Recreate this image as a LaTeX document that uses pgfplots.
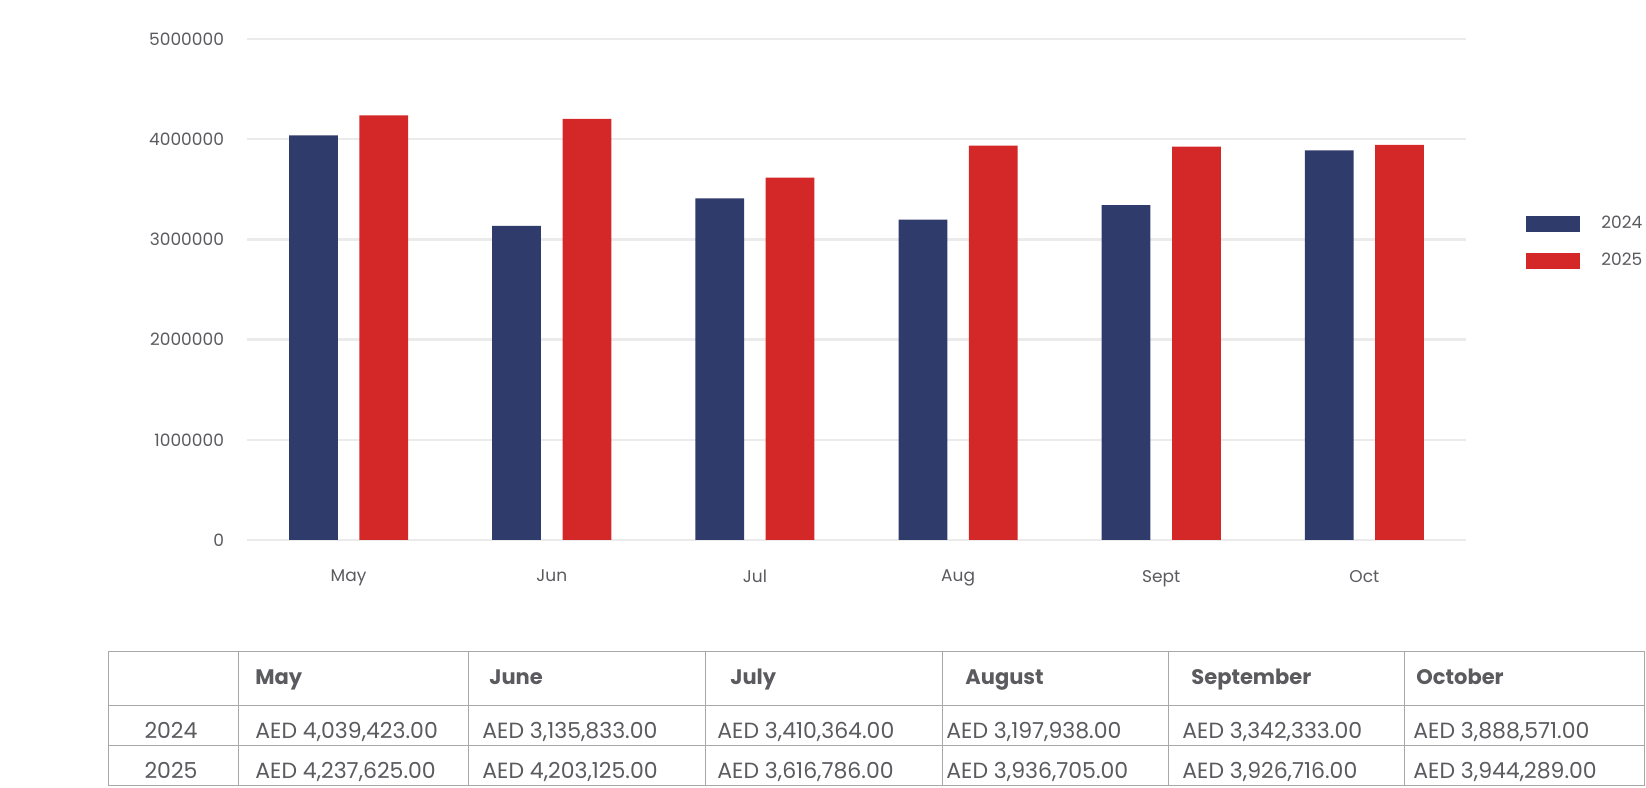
\documentclass[border=0pt]{standalone}
\usepackage{pgfplots}
\pgfplotsset{compat=1.18}
\usepackage{fontspec}
\setmainfont{Poppins}
\definecolor{navy}{HTML}{2F3B6B}
\definecolor{redb}{HTML}{D42728}
\definecolor{txt}{HTML}{5A5A5F}
\definecolor{gridc}{HTML}{EBEBEB}
\definecolor{tline}{HTML}{A8A8A8}
\begin{document}
\begin{tikzpicture}[x=1pt,y=1pt]
\path[use as bounding box] (0,0) rectangle (823,394);
\begin{axis}[
  at={(123.5pt,124pt)}, anchor=south west,
  scale only axis, width=609.5pt, height=250.5pt,
  xmin=-0.5, xmax=5.5, ymin=0, ymax=5000000,
  axis line style={draw=none},
  major tick length=0pt,
  xtick={0,1,2,3,4,5},
  xticklabels={May,Jun,Jul,Aug,Sept,Oct},
  ytick={0,1000000,2000000,3000000,4000000,5000000},
  scaled y ticks=false,
  yticklabel={\pgfmathprintnumber[fixed,1000 sep={},precision=0]{\tick}},
  /pgf/number format/assume math mode=true,
  ymajorgrids, grid style={gridc, line width=1.2pt},
  tick label style={font=\fontsize{8.5}{10}\selectfont, text=txt},
  yticklabel style={xshift=-8pt},
  xticklabel style={yshift=-11.5pt},
  ybar, bar width=0.24,
  legend style={at={(1,0.594)}, anchor=west, xshift=30pt, draw=none, fill=none,
    inner sep=0pt, font=\fontsize{8.5}{10}\selectfont, text=txt, row sep=7pt,
    /tikz/every odd column/.append style={column sep=8.5pt}},
  legend cell align=left,
  legend image code/.code={\fill[#1] (0pt,-4pt) rectangle (27pt,4pt);},
]
\addplot[fill=navy, draw=none, bar shift=-0.173] coordinates {
 (0,4039423) (1,3135833) (2,3410364) (3,3197938) (4,3342333) (5,3888571)};
\addplot[fill=redb, draw=none, bar shift=0.173] coordinates {
 (0,4237625) (1,4203125) (2,3616786) (3,3936705) (4,3926716) (5,3944289)};
\legend{2024,2025}
\end{axis}
% table
\begin{scope}[tline, line width=0.5pt]
\draw (54,1) rectangle (822,68);
\draw (54,41) -- (822,41);
\draw (54,21) -- (822,21);
\foreach \x in {119,234,352.5,471,584,702} \draw (\x,1) -- (\x,68);
\end{scope}
\begin{scope}[every node/.style={text=txt, inner sep=0pt, font=\fontsize{11}{13}\selectfont}]
\foreach \x/\t in {127.5/May,244.5/June,365/July,482.5/August,595.5/September,708/October}
  \node[anchor=base west, font=\fontsize{10.5}{12}\selectfont\bfseries] at (\x,51.8) {\t};
\node[anchor=base] at (85.5,24.6) {2024};
\node[anchor=base] at (85.5,4.8) {2025};
\foreach \x/\t in {127.5/{AED 4,039,423.00},241/{AED 3,135,833.00},358.5/{AED 3,410,364.00},473/{AED 3,197,938.00},591/{AED 3,342,333.00},706.5/{AED 3,888,571.00}}
  \node[anchor=base west] at (\x,24.6) {\t};
\foreach \x/\t in {127.5/{AED 4,237,625.00},241/{AED 4,203,125.00},358.5/{AED 3,616,786.00},473/{AED 3,936,705.00},591/{AED 3,926,716.00},706.5/{AED 3,944,289.00}}
  \node[anchor=base west] at (\x,4.8) {\t};
\end{scope}
\end{tikzpicture}
\end{document}
